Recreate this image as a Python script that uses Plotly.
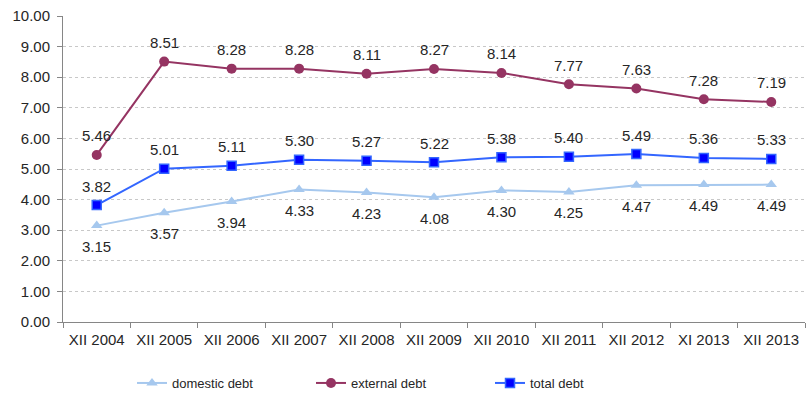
import plotly.graph_objects as go

categories = ["XII 2004", "XII 2005", "XII 2006", "XII 2007", "XII 2008", "XII 2009",
              "XII 2010", "XII 2011", "XII 2012", "XI 2013", "XII 2013"]
domestic = [3.15, 3.57, 3.94, 4.33, 4.23, 4.08, 4.30, 4.25, 4.47, 4.49, 4.49]
external = [5.46, 8.51, 8.28, 8.28, 8.11, 8.27, 8.14, 7.77, 7.63, 7.28, 7.19]
total = [3.82, 5.01, 5.11, 5.30, 5.27, 5.22, 5.38, 5.40, 5.49, 5.36, 5.33]
y_ticks = [0, 1, 2, 3, 4, 5, 6, 7, 8, 9, 10]

FONT = "Liberation Sans, Arial, sans-serif"
TXT = "#262626"

fig = go.Figure()
fig.add_trace(go.Scatter(
    x=categories, y=domestic, name="domestic debt", mode="lines+markers",
    line=dict(color="#A6C8EE", width=2),
    marker=dict(symbol="triangle-up", size=10, color="#A6C8EE"),
    cliponaxis=False))
fig.add_trace(go.Scatter(
    x=categories, y=external, name="external debt", mode="lines+markers",
    line=dict(color="#953462", width=2),
    marker=dict(symbol="circle", size=10, color="#953462"),
    cliponaxis=False))
fig.add_trace(go.Scatter(
    x=categories, y=total, name="total debt", mode="lines+markers",
    line=dict(color="#3366FF", width=2),
    marker=dict(symbol="square", size=9, color="#0000FF",
                line=dict(color="#3366FF", width=1.5)),
    cliponaxis=False))

annotations = []
for series, shift in ((domestic, -21), (external, 19), (total, 19)):
    for c, v in zip(categories, series):
        annotations.append(dict(x=c, y=v, xref="x", yref="y", text=f"{v:.2f}",
                                showarrow=False, yshift=shift, yanchor="middle",
                                font=dict(family=FONT, size=15, color=TXT)))

fig.update_layout(
    width=806, height=398,
    margin=dict(l=63, r=1, t=16, b=75),
    paper_bgcolor="white", plot_bgcolor="white",
    font=dict(family=FONT, size=15, color=TXT),
    showlegend=True,
    annotations=annotations,
    legend=dict(orientation="h", x=0.093, xanchor="left", y=-0.246, yanchor="bottom",
                entrywidth=134, entrywidthmode="pixels",
                font=dict(family=FONT, size=13, color=TXT), itemwidth=30,
                tracegroupgap=0),
    xaxis=dict(range=[-0.5, len(categories) - 0.5],
               showline=True, linecolor="#868686", linewidth=1,
               ticks="outside", ticklen=5, tickcolor="#868686",
               tickson="boundaries", showgrid=False, automargin=False,
               ticklabelstandoff=4,
               tickfont=dict(family=FONT, size=15, color=TXT)),
    yaxis=dict(range=[0, 10], tickvals=y_ticks,
               ticktext=[f"{v:.2f}" for v in y_ticks],
               showline=True, linecolor="#868686", linewidth=1,
               ticks="outside", ticklen=5, tickcolor="#868686",
               ticklabelstandoff=4, automargin=False,
               showgrid=True, gridcolor="#C8C8C8", griddash="dot", gridwidth=1,
               zeroline=False,
               tickfont=dict(family=FONT, size=15, color=TXT)),
)

fig.write_html("out.html")
